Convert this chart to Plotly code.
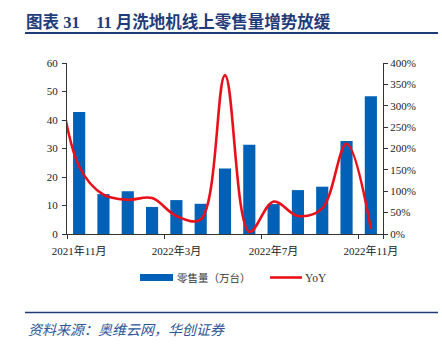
import plotly.graph_objects as go

# ---- data ----
months = ["2021年11月", "2021年12月", "2022年1月", "2022年2月", "2022年3月", "2022年4月",
          "2022年5月", "2022年6月", "2022年7月", "2022年8月", "2022年9月", "2022年10月", "2022年11月"]
sales = [42.8, 14.0, 15.0, 9.5, 11.9, 10.6, 23.0, 31.3, 10.5, 15.4, 16.6, 32.6, 48.3]
# YoY (%), first value is 2021年10月 (drawn off the left edge, clipped)
yoy_months = ["2021年10月"] + months
yoy = [420, 158, 92, 80, 84, 42, 34, 371, 5, 76, 42, 60, 211, 12]
label_months = ["2021年11月", "2022年3月", "2022年7月", "2022年11月"]

W, H = 442, 345
L, R, T, B = 67, 383, 63, 234

def px(x):
    return (x - L) / (R - L)

def py(y):
    return (B - y) / (B - T)

xb = list(range(len(months)))
xl = list(range(-1, len(months)))
tickpos = [months.index(m) for m in label_months]

serif = "Liberation Serif, Times New Roman, Noto Sans CJK SC, serif"
blue = "#0061B7"
red = "#E8111B"
navy = "#1F3C78"

fig = go.Figure()
fig.add_trace(go.Bar(x=xb, y=sales, marker=dict(color=blue, line=dict(width=0)),
                     name="零售量（万台）", width=0.5, showlegend=False))
fig.add_trace(go.Scatter(x=xl, y=yoy, yaxis="y2", mode="lines", name="YoY",
                         line=dict(color=red, width=2.6, shape="spline", smoothing=1.0),
                         showlegend=False))

fig.update_layout(
    width=W, height=H,
    margin=dict(l=L, r=W - R, t=T, b=H - B),
    paper_bgcolor="white", plot_bgcolor="white",
    font=dict(family=serif, size=11, color="#222"),
    xaxis=dict(range=[-0.5, len(months) - 0.5], tickmode="array", tickvals=tickpos,
               ticktext=label_months, ticks="", showgrid=False, zeroline=False,
               showline=True, linecolor="#333", linewidth=1, ticklabelstandoff=7,
               tickfont=dict(family=serif, size=11, color="#222"),
               minor=dict(tickmode="array", tickvals=[-0.5, 3.5, 7.5, 11.5, 12.5],
                          ticks="outside", ticklen=4, tickcolor="#333", showgrid=False)),
    yaxis=dict(range=[0, 60], dtick=10, ticks="outside", ticklen=4, tickcolor="#333",
               showline=True, linecolor="#333", linewidth=1, showgrid=False, zeroline=False,
               ticklabelstandoff=2,
               tickfont=dict(family=serif, size=11, color="#222")),
    yaxis2=dict(range=[0, 400], dtick=50, overlaying="y", side="right", ticksuffix="%",
                ticks="outside", ticklen=4, tickcolor="#333", showline=True, linecolor="#333",
                linewidth=1, showgrid=False, zeroline=False,
                tickfont=dict(family=serif, size=11, color="#222")),
    bargap=0.5,
)

# title
fig.add_annotation(xref="paper", yref="paper", x=px(24), y=py(22), xanchor="left", yanchor="middle",
                   text="<b>图表 31&nbsp;&nbsp;&nbsp;&nbsp;11 月洗地机线上零售量增势放缓</b>", showarrow=False,
                   font=dict(family="Liberation Serif, Noto Sans CJK SC", size=16.5, color=navy))
fig.add_shape(type="line", xref="paper", yref="paper", x0=px(25), x1=px(438), y0=py(33), y1=py(33),
              line=dict(color=navy, width=2))
# bottom rule and source
fig.add_shape(type="line", xref="paper", yref="paper", x0=px(25), x1=px(438), y0=py(312.5), y1=py(312.5),
              line=dict(color=navy, width=1.5))
fig.add_annotation(xref="paper", yref="paper", x=px(26), y=py(329), xanchor="left", yanchor="middle",
                   text="<i>资料来源：奥维云网，华创证券</i>", showarrow=False,
                   font=dict(family="Noto Sans CJK SC", size=14, color="#2E5597"))

# legend (manual)
fig.add_shape(type="rect", xref="paper", yref="paper", x0=px(140), x1=px(173), y0=py(281), y1=py(274),
              fillcolor=blue, line=dict(width=0))
fig.add_annotation(xref="paper", yref="paper", x=px(175), y=py(277.5), xanchor="left", yanchor="middle",
                   text="零售量（万台）", showarrow=False,
                   font=dict(family="Noto Sans CJK SC", size=10.5, color="#333"))
fig.add_shape(type="line", xref="paper", yref="paper", x0=px(270), x1=px(302), y0=py(277.5), y1=py(277.5),
              line=dict(color=red, width=2.6))
fig.add_annotation(xref="paper", yref="paper", x=px(303), y=py(277.5), xanchor="left", yanchor="middle",
                   text="YoY", showarrow=False, font=dict(family=serif, size=11.5, color="#333"))

fig.write_html("out.html")
